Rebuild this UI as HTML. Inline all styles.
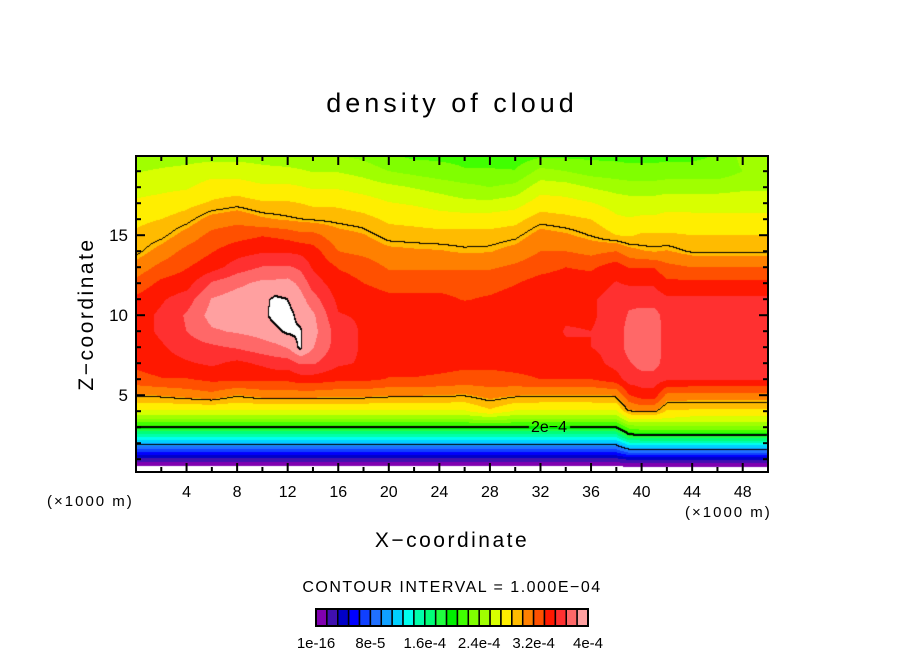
<!DOCTYPE html>
<html><head><meta charset="utf-8"><style>
html,body{margin:0;padding:0;background:#fff;width:904px;height:654px;overflow:hidden}
#wrap{position:relative;width:904px;height:654px}
canvas{position:absolute;left:136px;top:156px}
svg{position:absolute;left:0;top:0}
text{font-family:"Liberation Sans",sans-serif;fill:#000}
</style></head><body>
<div id="wrap">
<canvas id="cv" width="632" height="316"></canvas>
<svg id="sv" width="904" height="654"></svg>
</div>
<script>
// x positions (km) of data columns, z levels (km) of rows; values in units of 1e-5
const xKm = [0,2,4,6,8,10,11,12,13,14,16,18,20,22,24,26,28,30,32,34,36,38,39,40,41,42,44,46,48,50];
const zKm = [0,0.5,1,1.5,2,2.5,3,3.5,4,5,6,7,8,9,10,11,12,13,14,15,16,17,18,19,20];
const lowDefault = [-1,-0.3,2.7,7,11,15.5,20,24,27];
const lowRight = [-1,-0.3,3.5,9,14,20,23.5,26.5,28.5];
const col0  = [30.3,33,34,34.3,34.5,34.5,34,32.5,31,29.6,29,28.5,27.5,26.5,25.5,24.5];
const col2  = [30.5,33.5,34.5,35,35.5,35.5,35,34,32.5,31,29.6,28.8,27.8,26.8,25.8,24.8];
const col4  = [31,33.5,35,36,36.8,37,36,34.5,33.5,32.5,31,29.5,28.3,27,26,25];
const col6  = [31.5,34,35.5,36.5,38.2,39,38.5,37,34.5,33.5,32.5,31,29,28,26.5,25];
const col8  = [30.3,34,34.8,37,38.6,39.2,39.2,38,36,34.5,33,31.5,29.5,28,26.5,25];
const col10 = [31,34,35.5,37.8,39,39.5,39.5,38.8,36.9,35,33.5,30.6,29,27.5,26,25];
const col11 = [31,34,36,38,39.6,40.5,40.3,38.8,37,35,33.3,30.4,29,27.5,26,24.8];
const col12 = [31,34,36,38.5,40.3,40.6,40,39,37,35,33,30.2,29,27.5,26,24.5];
const col13 = [31,34.5,37,40.3,40.2,39.5,39,38,36.5,34.8,32.5,30,28.8,27.3,25.8,24.3];
const col14 = [31,34.5,37,38.5,39,38.7,37.5,36,35,34.3,32.5,29.8,28.5,27,25.5,24];
const col16 = [30.8,34,35.5,36,36,35.3,34.8,34.3,33.5,32,31,29.6,28.5,27,25.5,24];
const col18 = [30.8,34,35,35,35,35,34.5,33.6,33,31.5,30.5,29.3,28,26.5,25,23.5];
const col20 = [30.5,33.5,34.3,34.5,34.5,34.5,34,33,31.8,30.8,29.5,28.5,27.3,26,24,22.5];
const col22 = [30.5,33.5,34.3,34.5,34.5,34.5,34,33,31.8,30.6,29.4,28.3,27,25.5,23.5,22];
const col24 = [30.4,33.3,34.2,34.5,34.5,34.5,34,33,31.8,30.5,29.3,28,26.5,25,23,22];
const col26 = [30.2,33,34,34.5,34.5,34.5,33.5,33,31.8,30.2,29.3,28,26,24.5,22.5,22];
const col28 = [31,33,34,34.5,34.5,34.5,33.8,33,31.8,30.3,29.3,28,26,24,22.5,22];
const col30 = [30.5,33.2,34.2,34.5,34.5,34.5,34.3,33.5,32.3,31,29.6,28.3,26.5,24.5,22.5,21.5];
const col32 = [30.3,33.6,34.3,34.5,34.5,34.5,34.5,34.3,33,32,31,29.5,28,26.5,24.5,22];
const col34 = [30.3,33.6,34.5,35,35.3,35,34.5,34.5,33.6,32,30.6,29.2,27.8,26.3,24,22];
const col36 = [30.3,33.6,34.5,35.2,35.2,35,35,34.5,33.3,31.5,29.9,28.8,27.3,25.5,23.3,22];
const col38 = [30.5,34.5,35.8,35.8,35.8,35.8,35.8,35.3,34.5,32,28.8,27.5,26.5,25,23,22];
const col39 = [33.5,36,36.6,37.5,37.5,37,36.3,35,33.5,31,28.6,27.3,26.3,24.8,22.8,22];
const col40 = [34.5,36,37.5,38,38,37.5,36,35,33.5,30.5,29,27.5,26.3,24.8,22.8,22];
const col41 = [34.5,36,37.5,37.8,37.8,37.5,36,35,33.5,30.3,29,27.5,26.3,24.8,22.8,22];
const col42 = [31.5,35.5,36,36,36,36,35.5,34,32.5,30.5,29,27.8,26.5,25,23,22];
const col44 = [31.3,35.5,36,36,36,36,35.5,34,32,29.8,28.8,27.7,26.5,25,23,22];
const col46 = [31.3,35.5,36,36,36,36,35.5,34,32,29.8,28.8,27.7,26.5,25,23,22.5];
const col48 = [31.3,35.5,36,36,36,36,35.5,34,32,29.8,28.8,27.7,26.5,25.3,24,24.5];
const col50 = [31.3,35.5,36,36,36,36,35.5,34,32,29.8,28.8,27.7,26.5,25.3,24,24.5];
const low28 = [-1,-0.3,2.7,7,11,15.5,20,24.5,28.5];
const low39 = [-1,-0.3,3.5,9,14,19.5,23,27,30];
const low40 = [-1,-0.3,3.5,9,14,20,23.5,27,30.5];
const low42 = [-1,-0.3,3.5,9,14,20,23.5,27,28.5];
const upperCols = [col0,col2,col4,col6,col8,col10,col11,col12,col13,col14,col16,col18,col20,col22,col24,col26,col28,col30,col32,col34,col36,col38,col39,col40,col41,col42,col44,col46,col48,col50];
const lowerCols = [lowDefault,lowDefault,lowDefault,lowDefault,lowDefault,lowDefault,lowDefault,lowDefault,lowDefault,lowDefault,lowDefault,lowDefault,lowDefault,lowDefault,lowDefault,lowDefault,low28,lowDefault,lowDefault,lowDefault,lowDefault,lowDefault,low39,low40,low40,low42,lowRight,lowRight,lowRight,lowRight];
const levelStep = 1.6;
const contourValues = [10,20,30,40];
const colors = ["#8000b0","#4010b0","#0000c8","#0000ff","#1040ff","#2070ff","#10a0ff","#00d0ff","#00ffee","#00ffaa","#00ff78","#20ff40","#00f000","#40ff00","#80ff00","#a0ff00","#d8ff00","#ffee00","#ffbb00","#ff8000","#ff5000","#ff1800","#ff3030","#ff6868","#ffa0a0"];
const xTicks = [4,8,12,16,20,24,28,32,36,40,44,48];
const zTicks = [5,10,15];
const barLabels = ["1e-16","8e-5","1.6e-4","2.4e-4","3.2e-4","4e-4"];

const PL=136,PT=156,PW=632,PH=316,XMAX=50,ZMIN=0.2,ZMAX=19.95;
const sx = x => PL + x/XMAX*PW;
const sz = z => PT + PH - (z-ZMIN)/(ZMAX-ZMIN)*PH;
const grid = upperCols.map((u,i)=>lowerCols[i].concat(u));
function seg(arr,v){let i=0;while(i<arr.length-2&&v>arr[i+1])i++;return i;}
function field(x,z){
  const i=seg(xKm,x), j=seg(zKm,z);
  const tx=Math.max(0,Math.min(1,(x-xKm[i])/(xKm[i+1]-xKm[i])));
  const tz=Math.max(0,Math.min(1,(z-zKm[j])/(zKm[j+1]-zKm[j])));
  const a=grid[i][j],b=grid[i+1][j],c=grid[i][j+1],d=grid[i+1][j+1];
  return (a*(1-tx)+b*tx)*(1-tz)+(c*(1-tx)+d*tx)*tz;
}
function hex(h){return [parseInt(h.substr(1,2),16),parseInt(h.substr(3,2),16),parseInt(h.substr(5,2),16)];}
const rgb = colors.map(hex);
const cv=document.getElementById('cv'),ctx=cv.getContext('2d');
const img=ctx.createImageData(PW,PH);
const vals=new Float32Array(PW*PH);
for(let py=0;py<PH;py++){const z=ZMIN+(PH-py-0.5)/PH*(ZMAX-ZMIN);
  for(let px=0;px<PW;px++){const x=(px+0.5)/PW*XMAX;vals[py*PW+px]=field(x,z);}}
for(let k=0;k<PW*PH;k++){const v=vals[k];let c=[255,255,255];
  if(v>0&&v<40){c=rgb[Math.min(24,Math.floor(v/levelStep))];}
  img.data[k*4]=c[0];img.data[k*4+1]=c[1];img.data[k*4+2]=c[2];img.data[k*4+3]=255;}
function setBlack(px,py){if(px<0||py<0||px>=PW||py>=PH)return;
  const X=px+PL,Y=py+PT;if(X>528&&X<570&&Y>417&&Y<436)return;
  const k=py*PW+px;img.data[k*4]=0;img.data[k*4+1]=0;img.data[k*4+2]=0;}
for(const cval of contourValues){
  for(let py=0;py<PH-1;py++)for(let px=0;px<PW-1;px++){
    const a=vals[py*PW+px]>=cval,b=vals[py*PW+px+1]>=cval,c=vals[(py+1)*PW+px]>=cval;
    if(a!==b||a!==c){setBlack(px,py);if(cval===20||cval===40){setBlack(px,py+1);}}
  }}
ctx.putImageData(img,0,0);

const NS='http://www.w3.org/2000/svg',sv=document.getElementById('sv');
function mk(tag,attrs,txt){const e=document.createElementNS(NS,tag);for(const k in attrs)e.setAttribute(k,attrs[k]);if(txt!==undefined)e.textContent=txt;sv.appendChild(e);return e;}
let e;
e=mk('rect',{x:PL,y:PT,width:PW,height:PH,fill:'none',stroke:'#000','stroke-width':2});


for(let x=2;x<50;x+=2){const L=(x%4===0)?9:5;
  e=mk('line',{x1:sx(x),x2:sx(x),y1:PT+PH,y2:PT+PH-L,stroke:'#000','stroke-width':2});
  
  
  e=mk('line',{x1:sx(x),x2:sx(x),y1:PT,y2:PT+L,stroke:'#000','stroke-width':2});
  
  }
for(let z=1;z<20;z++){const L=(z%5===0)?9:5;
  e=mk('line',{x1:PL,x2:PL+L,y1:sz(z),y2:sz(z),stroke:'#000','stroke-width':2});
  
  
  e=mk('line',{x1:PL+PW,x2:PL+PW-L,y1:sz(z),y2:sz(z),stroke:'#000','stroke-width':2});
  
  }
xTicks.forEach(t=>{e=mk('text',{x:sx(t),y:497,'text-anchor':'middle','font-size':16},String(t));
  
  });
zTicks.forEach(t=>{e=mk('text',{x:128,y:sz(t)+6,'text-anchor':'end','font-size':17},String(t));
  
  });
// colorbar
const BX=316,BY=609,BW=272,BH=17,cw=BW/colors.length;
colors.forEach((c,i)=>{e=mk('rect',{x:BX+i*cw,y:BY,width:cw,height:BH,fill:c,stroke:'#000','stroke-width':1.5});
  
  });
e=mk('rect',{x:BX,y:BY,width:BW,height:BH,fill:'none',stroke:'#000','stroke-width':2});


barLabels.forEach((l,i)=>{e=mk('text',{x:BX+i*5*cw,y:648,'text-anchor':'middle','font-size':15},l);
  
  });
</script>
<script>
(function(){const NS='http://www.w3.org/2000/svg',sv=document.getElementById('sv');
const items=[
 ['chart-title',{x:452,y:112,'text-anchor':'middle','font-size':27,'letter-spacing':4},'density of cloud'],
 ['x-axis-title',{x:452,y:547,'text-anchor':'middle','font-size':21,'letter-spacing':2.5},'X\u2212coordinate'],
 ['x-unit-left',{x:47,y:506,'font-size':15,'letter-spacing':2},'(\u00d71000 m)'],
 ['x-unit-right',{x:685,y:517,'font-size':15,'letter-spacing':2},'(\u00d71000 m)'],
 ['contour-interval',{x:452,y:592,'text-anchor':'middle','font-size':16,'letter-spacing':1.5},'CONTOUR INTERVAL = 1.000E\u221204'],
 ['contour-label-2e-4',{x:549,y:432,'text-anchor':'middle','font-size':16},'2e\u22124'],
 ['z-axis-title',{x:0,y:0,'text-anchor':'middle','font-size':21,'letter-spacing':2.5,transform:'translate(93,314) rotate(-90)'},'Z\u2212coordinate']];
for(const it of items){const e=document.createElementNS(NS,'text');for(const k in it[1])e.setAttribute(k,it[1][k]);e.textContent=it[2];


sv.appendChild(e);}})();
</script>
</body></html>
